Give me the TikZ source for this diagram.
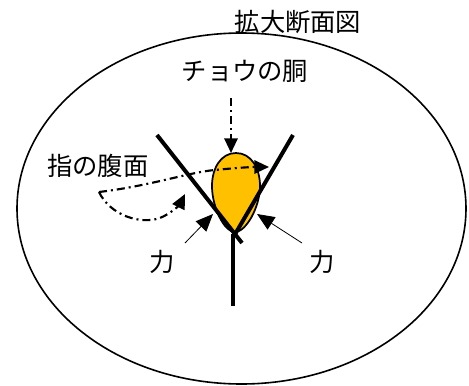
\documentclass[tikz,border=0pt]{standalone}
\usepackage{fontspec}
\setmainfont{Noto Sans CJK JP}
\usetikzlibrary{arrows.meta}
\definecolor{bodyfill}{HTML}{FFC000}
\tikzset{
  label/.style={inner sep=0pt, font=\fontsize{19}{19}\selectfont},
  finger/.style={line width=3pt, line cap=butt},
  dashdotline/.style={line width=1.6pt, dash pattern=on 6pt off 3pt on 1.5pt off 3pt},
  bigtip/.style={-{Triangle[length=11pt,width=10pt]}},
  forcearrow/.style={line width=0.6pt, -{Triangle[length=13pt,width=11pt]}},
}
\begin{document}
\begin{tikzpicture}[x=0.75pt,y=-0.75pt]
  \useasboundingbox (0,0) rectangle (469,386);
  % outer section outline
  \draw[line width=1.2pt] (241.5,208.5) ellipse [x radius=224.5, y radius=175.5];
  \node[label] (title) at (298,22) {拡大断面図};
  \node[label] (bodylabel) at (245,71) {チョウの胴};
  \node[label] (padlabel) at (98,166) {指の腹面};
  \node[label] (forceL) at (162,262) {力};
  \node[label] (forceR) at (322,262) {力};

  % butterfly body
  \draw[line width=1.3pt, fill=bodyfill]
    (236,153) .. controls (251,153) and (260,168) .. (260,186)
    .. controls (260,207) and (246,232) .. (235,232)
    .. controls (224,232) and (212,207) .. (212,186)
    .. controls (212,168) and (221,153) .. (236,153) -- cycle;

  % finger pads (V) and stem
  \coordinate (vl) at (157,135);
  \coordinate (vlend) at (242,243);
  \coordinate (vr) at (293,135);
  \coordinate (vrend) at (234,236);
  \coordinate (stemtop) at (233,234);
  \coordinate (stembot) at (233,306);
  \draw[finger] (vl) -- (vlend);
  \draw[finger] (vr) -- (vrend);
  \draw[finger] (stemtop) -- (stembot);

  % arrow to the body
  \coordinate (bodytop) at (231,153);
  \draw[dashdotline, bigtip] (231,98) -- (bodytop);

  % finger pad surface arrows
  \coordinate (padstart) at (99,192);
  \coordinate (padtipR) at (269,167);
  \coordinate (padtipL) at (185,194);
  \draw[dashdotline, bigtip] (padstart) .. controls (150,186) and (190,172) .. (215,170)
    .. controls (235,168) and (250,167) .. (padtipR);
  \draw[dashdotline, bigtip] (padstart) .. controls (110,215) and (140,225) .. (160,218)
    .. controls (172,213) and (180,204) .. (padtipL);

  % forces
  \draw[forcearrow] (185,243) -- (213,214);
  \draw[forcearrow] (302,243) -- (257,214);
\end{tikzpicture}
\end{document}
